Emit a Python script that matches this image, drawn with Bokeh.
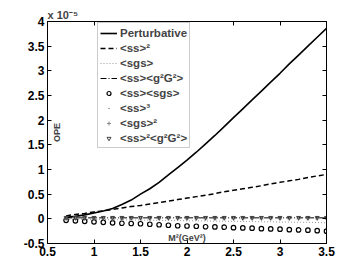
import math
from bokeh.plotting import figure
from bokeh.models import (LinearAxis, FixedTicker, CustomJSTickFormatter, Label,
                          Legend, LegendItem, Range1d)
from bokeh.embed import file_html
from bokeh.resources import INLINE

# ---- data (OPE values in units of 1e-5) ----
m2 = [0.7, 0.8, 0.9, 1.0, 1.1, 1.2, 1.3, 1.4, 1.5, 1.6, 1.7, 1.8, 1.9, 2.0,
      2.1, 2.2, 2.3, 2.4, 2.5, 2.6, 2.7, 2.8, 2.9, 3.0, 3.1, 3.2, 3.3, 3.4, 3.5]
perturbative = [0.03, 0.05, 0.08, 0.12, 0.16, 0.21, 0.29, 0.38, 0.50, 0.61, 0.74,
                0.89, 1.04, 1.19, 1.35, 1.52, 1.69, 1.87, 2.05, 2.23, 2.41, 2.59,
                2.77, 2.95, 3.14, 3.32, 3.50, 3.68, 3.86]
ss2 = [0.06, 0.09, 0.11, 0.14, 0.16, 0.19, 0.22, 0.25, 0.27, 0.30, 0.33, 0.36,
       0.39, 0.42, 0.45, 0.48, 0.51, 0.55, 0.58, 0.61, 0.64, 0.67, 0.71, 0.74,
       0.77, 0.80, 0.84, 0.87, 0.90]
sgs = [-0.01, -0.01, -0.01, -0.015, -0.015, -0.02, -0.02, -0.025, -0.025, -0.03,
       -0.03, -0.035, -0.035, -0.04, -0.04, -0.045, -0.045, -0.05, -0.05, -0.055,
       -0.055, -0.06, -0.06, -0.065, -0.065, -0.07, -0.07, -0.075, -0.08]
ss_g2G2 = [0.02] * 29
ss_sgs = [-0.03, -0.04, -0.05, -0.06, -0.07, -0.08, -0.09, -0.095, -0.10, -0.11,
          -0.12, -0.13, -0.14, -0.145, -0.15, -0.16, -0.165, -0.17, -0.18, -0.185,
          -0.19, -0.20, -0.205, -0.21, -0.22, -0.225, -0.23, -0.24, -0.25]
ss3 = [0.03] * 29
sgs2 = [0.0] * 29
ss2_g2G2 = [0.025] * 29

x_ticks = [0.5, 1, 1.5, 2, 2.5, 3, 3.5]
y_ticks = [-0.5, 0, 0.5, 1, 1.5, 2, 2.5, 3, 3.5, 4]

labels = ["Perturbative", "<ss>²", "<sgs>", "<ss><g²G²>", "<ss><sgs>",
          "<ss>³", "<sgs>²", "<ss>²<g²G²>"]

FONT = "Liberation Sans"

p = figure(width=360, height=273, x_range=Range1d(0.5, 3.5), y_range=Range1d(-0.5, 4),
           output_backend="svg", toolbar_location=None,
           min_border_left=47, min_border_right=34, min_border_top=21, min_border_bottom=30)
p.xgrid.visible = False
p.ygrid.visible = False
p.outline_line_color = "black"
p.outline_line_width = 1
p.background_fill_color = "white"
p.border_fill_color = "white"

# scale-factor note shown as the title, top-left of the frame
p.title.text = "x 10⁻⁵"
p.title.align = "left"
p.title.text_font = FONT
p.title.text_font_size = "11px"
p.title.text_font_style = "bold"
p.title.standoff = 2
p.title.offset = 0

fmt = CustomJSTickFormatter(code="return tick.toString();")
blank = CustomJSTickFormatter(code="return '';")

def style_axis(ax, ticks, formatter, show):
    ax.ticker = FixedTicker(ticks=ticks)
    ax.formatter = formatter
    ax.major_tick_in = 4
    ax.major_tick_out = 0
    ax.minor_tick_line_color = None
    ax.axis_line_color = "black"
    ax.major_tick_line_color = "black"
    ax.major_label_text_font = FONT
    ax.major_label_text_font_style = "bold"
    ax.major_label_text_font_size = "12px" if show else "0px"
    ax.major_label_text_color = "black"
    ax.major_label_standoff = 3

style_axis(p.xaxis[0], x_ticks, fmt, True)
style_axis(p.yaxis[0], y_ticks, fmt, True)
top = LinearAxis()
right = LinearAxis()
style_axis(top, x_ticks, blank, False)
style_axis(right, y_ticks, blank, False)
p.add_layout(top, "above")
p.add_layout(right, "right")

r_pert = p.line(m2, perturbative, line_color="black", line_width=1.6)
r_ss2 = p.line(m2, ss2, line_color="black", line_width=1.5, line_dash="5 3")
r_sgs = p.line(m2, sgs, line_color="#999999", line_width=1, line_dash="1 2")
r_ssg = p.line(m2, ss_g2G2, line_color="black", line_width=1, line_dash="6 2 1 2")
r_sssgs = p.scatter(m2, ss_sgs, marker="circle", size=4.5, fill_color=None,
                    line_color="black", line_width=1.2)
r_ss3 = p.scatter(m2, ss3, marker="dot", size=10, fill_color="black", line_color="black",
                  line_width=1.5)
r_sgs2 = p.scatter(m2, sgs2, marker="cross", size=4, line_color="#888888", line_width=1)
r_ss2g = p.scatter(m2, ss2_g2G2, marker="inverted_triangle", size=4, fill_color=None,
                   line_color="#444444", line_width=1)

renderers = [r_pert, r_ss2, r_sgs, r_ssg, r_sssgs, r_ss3, r_sgs2, r_ss2g]
items = [LegendItem(label=l, renderers=[r]) for l, r in zip(labels, renderers)]
legend = Legend(items=items, location=(50, 95))
legend.label_text_font = FONT
legend.label_text_font_style = "bold"
legend.label_text_font_size = "11.5px"
legend.label_height = 15
legend.glyph_height = 10
legend.glyph_width = 17
legend.label_standoff = 3
legend.spacing = 0
legend.padding = 2
legend.margin = 0
legend.border_line_color = "#999999"
legend.border_line_width = 1
legend.background_fill_color = "white"
legend.background_fill_alpha = 1
p.add_layout(legend, "center")

p.add_layout(Label(x=0.597, y=1.75, text="OPE", angle=math.pi / 2, text_font=FONT,
                   text_font_size="9px", text_font_style="bold",
                   text_align="center", text_baseline="middle"))
p.add_layout(Label(x=2.0, y=-0.38, text="M²(GeV²)", text_font=FONT,
                   text_font_size="9px", text_font_style="bold",
                   text_align="center", text_baseline="middle"))

open("out.html", "w").write(file_html(p, INLINE))
